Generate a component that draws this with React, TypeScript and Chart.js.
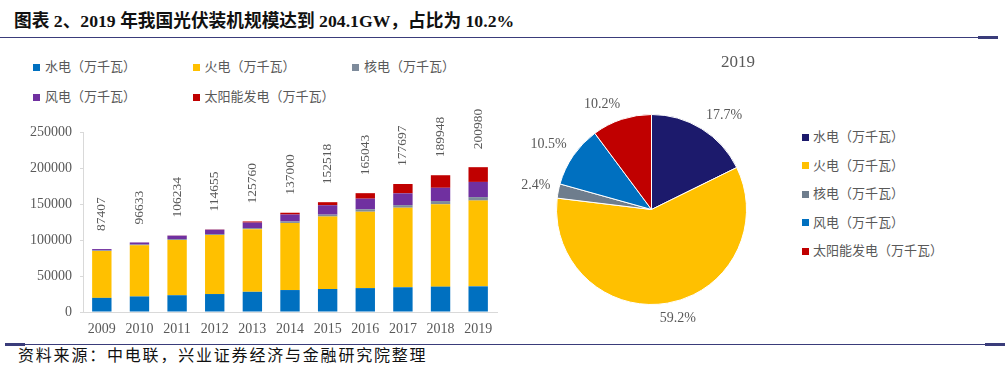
import React, { useEffect, useRef } from "react";
import { Chart, registerables } from "chart.js";

Chart.register(...registerables);

// ---------- data ----------
const years = ["2009", "2010", "2011", "2012", "2013", "2014", "2015", "2016", "2017", "2018", "2019"];
const hydro = [19629, 21606, 23298, 24947, 28044, 30486, 31954, 33207, 34359, 35226, 35640];
const thermal = [65108, 70967, 76834, 81968, 87009, 93232, 100554, 106094, 110495, 114408, 119055];
const nuclear = [908, 1082, 1257, 1257, 1466, 2008, 2717, 3364, 3582, 4466, 4874];
const wind = [1760, 2958, 4623, 6142, 7652, 9657, 13075, 14747, 16367, 18427, 21100];
const solar = [2, 26, 212, 341, 1589, 2486, 4218, 7631, 12942, 17433, 20468];
const totalLabels = [87407, 96633, 106234, 114655, 125760, 137000, 152518, 165043, 177697, 189948, 200980];
const seriesNames = ["水电（万千瓦）", "火电（万千瓦）", "核电（万千瓦）", "风电（万千瓦）", "太阳能发电（万千瓦）"];
const barColors = ["#0070C0", "#FFC000", "#7E8B9B", "#7030A0", "#C00000"];
const pieColors = ["#1C1A6C", "#FFC000", "#6E7D8D", "#0070C0", "#C00000"];
const yMax = 250000;
const yStep = 50000;
const pieYear = "2019";
const titleText = "图表 2、2019 年我国光伏装机规模达到 204.1GW，占比为 10.2%";
const sourceText = "资料来源：中电联，兴业证券经济与金融研究院整理";

const seriesData = [hydro, thermal, nuclear, wind, solar];
const pieValues = seriesData.map((s) => s[s.length - 1]);

const SERIF = '"Liberation Serif", "Times New Roman", serif';
const CJK = '"Liberation Serif", "Noto Sans CJK SC", sans-serif';
const GRAY = "#595959";
const NAVY = "#3A3C7A";

const clamp = (v: number) => Math.max(-1, Math.min(1, v));

const totalLabelPlugin = {
  id: "totalLabelPlugin",
  afterDatasetsDraw(chart: any) {
    const { ctx } = chart;
    const xs = chart.scales.x;
    const ys = chart.scales.y;
    ctx.save();
    ctx.font = `13.5px ${SERIF}`;
    ctx.fillStyle = GRAY;
    ctx.textAlign = "left";
    ctx.textBaseline = "middle";
    years.forEach((_, i) => {
      const sum = seriesData.reduce((a, s) => a + s[i], 0);
      const px = xs.getPixelForValue(i);
      const py = ys.getPixelForValue(sum);
      ctx.save();
      ctx.translate(px, py - 18);
      ctx.rotate(-Math.PI / 2);
      ctx.fillText(String(totalLabels[i]), 0, 0);
      ctx.restore();
    });
    ctx.restore();
  },
};

const pieLabelPlugin = {
  id: "pieLabelPlugin",
  afterDatasetsDraw(chart: any) {
    const { ctx } = chart;
    const meta = chart.getDatasetMeta(0);
    const total = pieValues.reduce((a, b) => a + b, 0);
    ctx.save();
    ctx.font = `14px ${SERIF}`;
    ctx.fillStyle = GRAY;
    ctx.textAlign = "center";
    ctx.textBaseline = "middle";
    meta.data.forEach((arc: any, i: number) => {
      const p = arc.getProps(["x", "y", "startAngle", "endAngle", "outerRadius"], true);
      const mid = (p.startAngle + p.endAngle) / 2;
      const c = Math.cos(mid);
      const s = Math.sin(mid);
      const text = ((pieValues[i] / total) * 100).toFixed(1) + "%";
      const w = ctx.measureText(text).width;
      const ax = p.x + c * (p.outerRadius + 8);
      const ay = p.y + s * (p.outerRadius + 8);
      const cx = ax + (w / 2) * clamp(c * 3);
      const cy = ay + 7 * clamp(s * 3);
      ctx.fillText(text, cx, cy);
    });
    ctx.restore();
  },
};

export default function App() {
  const barRef = useRef<HTMLCanvasElement>(null);
  const pieRef = useRef<HTMLCanvasElement>(null);

  useEffect(() => {
    const bar = new Chart(barRef.current as HTMLCanvasElement, {
      type: "bar",
      data: {
        labels: years,
        datasets: seriesData.map((d, i) => ({
          label: seriesNames[i],
          data: d,
          backgroundColor: barColors[i],
          borderWidth: 0,
          barPercentage: 0.515,
          categoryPercentage: 1,
        })),
      },
      options: {
        responsive: false,
        animation: false,
        layout: { padding: { top: 42, right: 23, bottom: 0, left: 0 } },
        plugins: { legend: { display: false }, tooltip: { enabled: false }, title: { display: false } },
        scales: {
          x: {
            stacked: true,
            grid: { display: false, drawTicks: false },
            border: { display: true, color: "#D9D9D9", width: 1 },
            ticks: { color: GRAY, font: { family: SERIF, size: 14 }, padding: 9, maxRotation: 0 },
            afterFit: (s: any) => {
              s.height = 33;
            },
          },
          y: {
            stacked: true,
            min: 0,
            max: yMax,
            grid: { display: true, drawOnChartArea: false, drawTicks: true, tickLength: 3, color: "#D9D9D9" },
            border: { display: true, color: "#D9D9D9", width: 1 },
            ticks: {
              stepSize: yStep,
              color: GRAY,
              font: { family: SERIF, size: 14 },
              padding: 8,
              callback: (v: any) => String(v),
            },
            afterFit: (s: any) => {
              s.width = 83;
            },
          },
        },
      },
      plugins: [totalLabelPlugin],
    } as any);

    const pie = new Chart(pieRef.current as HTMLCanvasElement, {
      type: "pie",
      data: {
        labels: seriesNames,
        datasets: [
          {
            data: pieValues,
            backgroundColor: pieColors,
            borderColor: "#FFFFFF",
            borderWidth: 1,
          },
        ],
      },
      options: {
        responsive: false,
        animation: false,
        layout: { padding: { top: 24, right: 53, bottom: 35, left: 46 } },
        plugins: { legend: { display: false }, tooltip: { enabled: false } },
      },
      plugins: [pieLabelPlugin],
    } as any);

    return () => {
      bar.destroy();
      pie.destroy();
    };
  }, []);

  const legendText: React.CSSProperties = {
    position: "absolute",
    fontFamily: CJK,
    fontSize: 13,
    color: GRAY,
    lineHeight: "16px",
    whiteSpace: "nowrap",
  };

  return (
    <div
      style={{
        position: "absolute",
        left: 0,
        top: 0,
        width: 1008,
        height: 372,
        background: "#FFFFFF",
        overflow: "hidden",
      }}
    >
      <div
        style={{
          position: "absolute",
          left: 14,
          top: 9,
          fontFamily: CJK,
          fontWeight: "bold",
          fontSize: 17.7,
          lineHeight: "24px",
          color: "#111",
          whiteSpace: "nowrap",
        }}
      >
        {titleText}
      </div>
      <div style={{ position: "absolute", left: 0, top: 37, width: 998, height: 1, background: NAVY }} />
      <div style={{ position: "absolute", left: 978, top: 36, width: 20, height: 3, background: NAVY }} />

      {seriesNames.map((name, i) => {
        const col = i < 3 ? i : i - 3;
        const row = i < 3 ? 0 : 1;
        const x = 33 + col * 159.5;
        const y = 67 + row * 30;
        return (
          <React.Fragment key={"bl" + i}>
            <div style={{ position: "absolute", left: x, top: y - 3.5, width: 7, height: 7, background: barColors[i] }} />
            <div style={{ ...legendText, left: x + 12, top: y - 8 }}>{name}</div>
          </React.Fragment>
        );
      })}

      <canvas ref={barRef} width={520} height={255} style={{ position: "absolute", left: 0, top: 90, width: 520, height: 255 }} />
      <canvas ref={pieRef} width={290} height={250} style={{ position: "absolute", left: 510, top: 90, width: 290, height: 250 }} />

      <div
        style={{
          position: "absolute",
          left: 700,
          top: 52,
          width: 76,
          textAlign: "center",
          fontFamily: SERIF,
          fontSize: 17,
          lineHeight: "20px",
          color: GRAY,
        }}
      >
        {pieYear}
      </div>

      {seriesNames.map((name, i) => {
        const y = 137.3 + i * 28.5;
        return (
          <React.Fragment key={"pl" + i}>
            <div style={{ position: "absolute", left: 802, top: y - 3.5, width: 7, height: 7, background: pieColors[i] }} />
            <div style={{ ...legendText, left: 813, top: y - 8 }}>{name}</div>
          </React.Fragment>
        );
      })}

      <div style={{ position: "absolute", left: 5, top: 344, width: 1000, height: 1, background: NAVY }} />
      <div style={{ position: "absolute", left: 5, top: 343, width: 20, height: 3, background: NAVY }} />
      <div style={{ position: "absolute", left: 985, top: 343, width: 20, height: 3, background: NAVY }} />
      <div
        style={{
          position: "absolute",
          left: 18,
          top: 346,
          fontFamily: CJK,
          fontSize: 16,
          letterSpacing: "1.8px",
          lineHeight: "20px",
          color: "#111",
          whiteSpace: "nowrap",
        }}
      >
        {sourceText}
      </div>
    </div>
  );
}
